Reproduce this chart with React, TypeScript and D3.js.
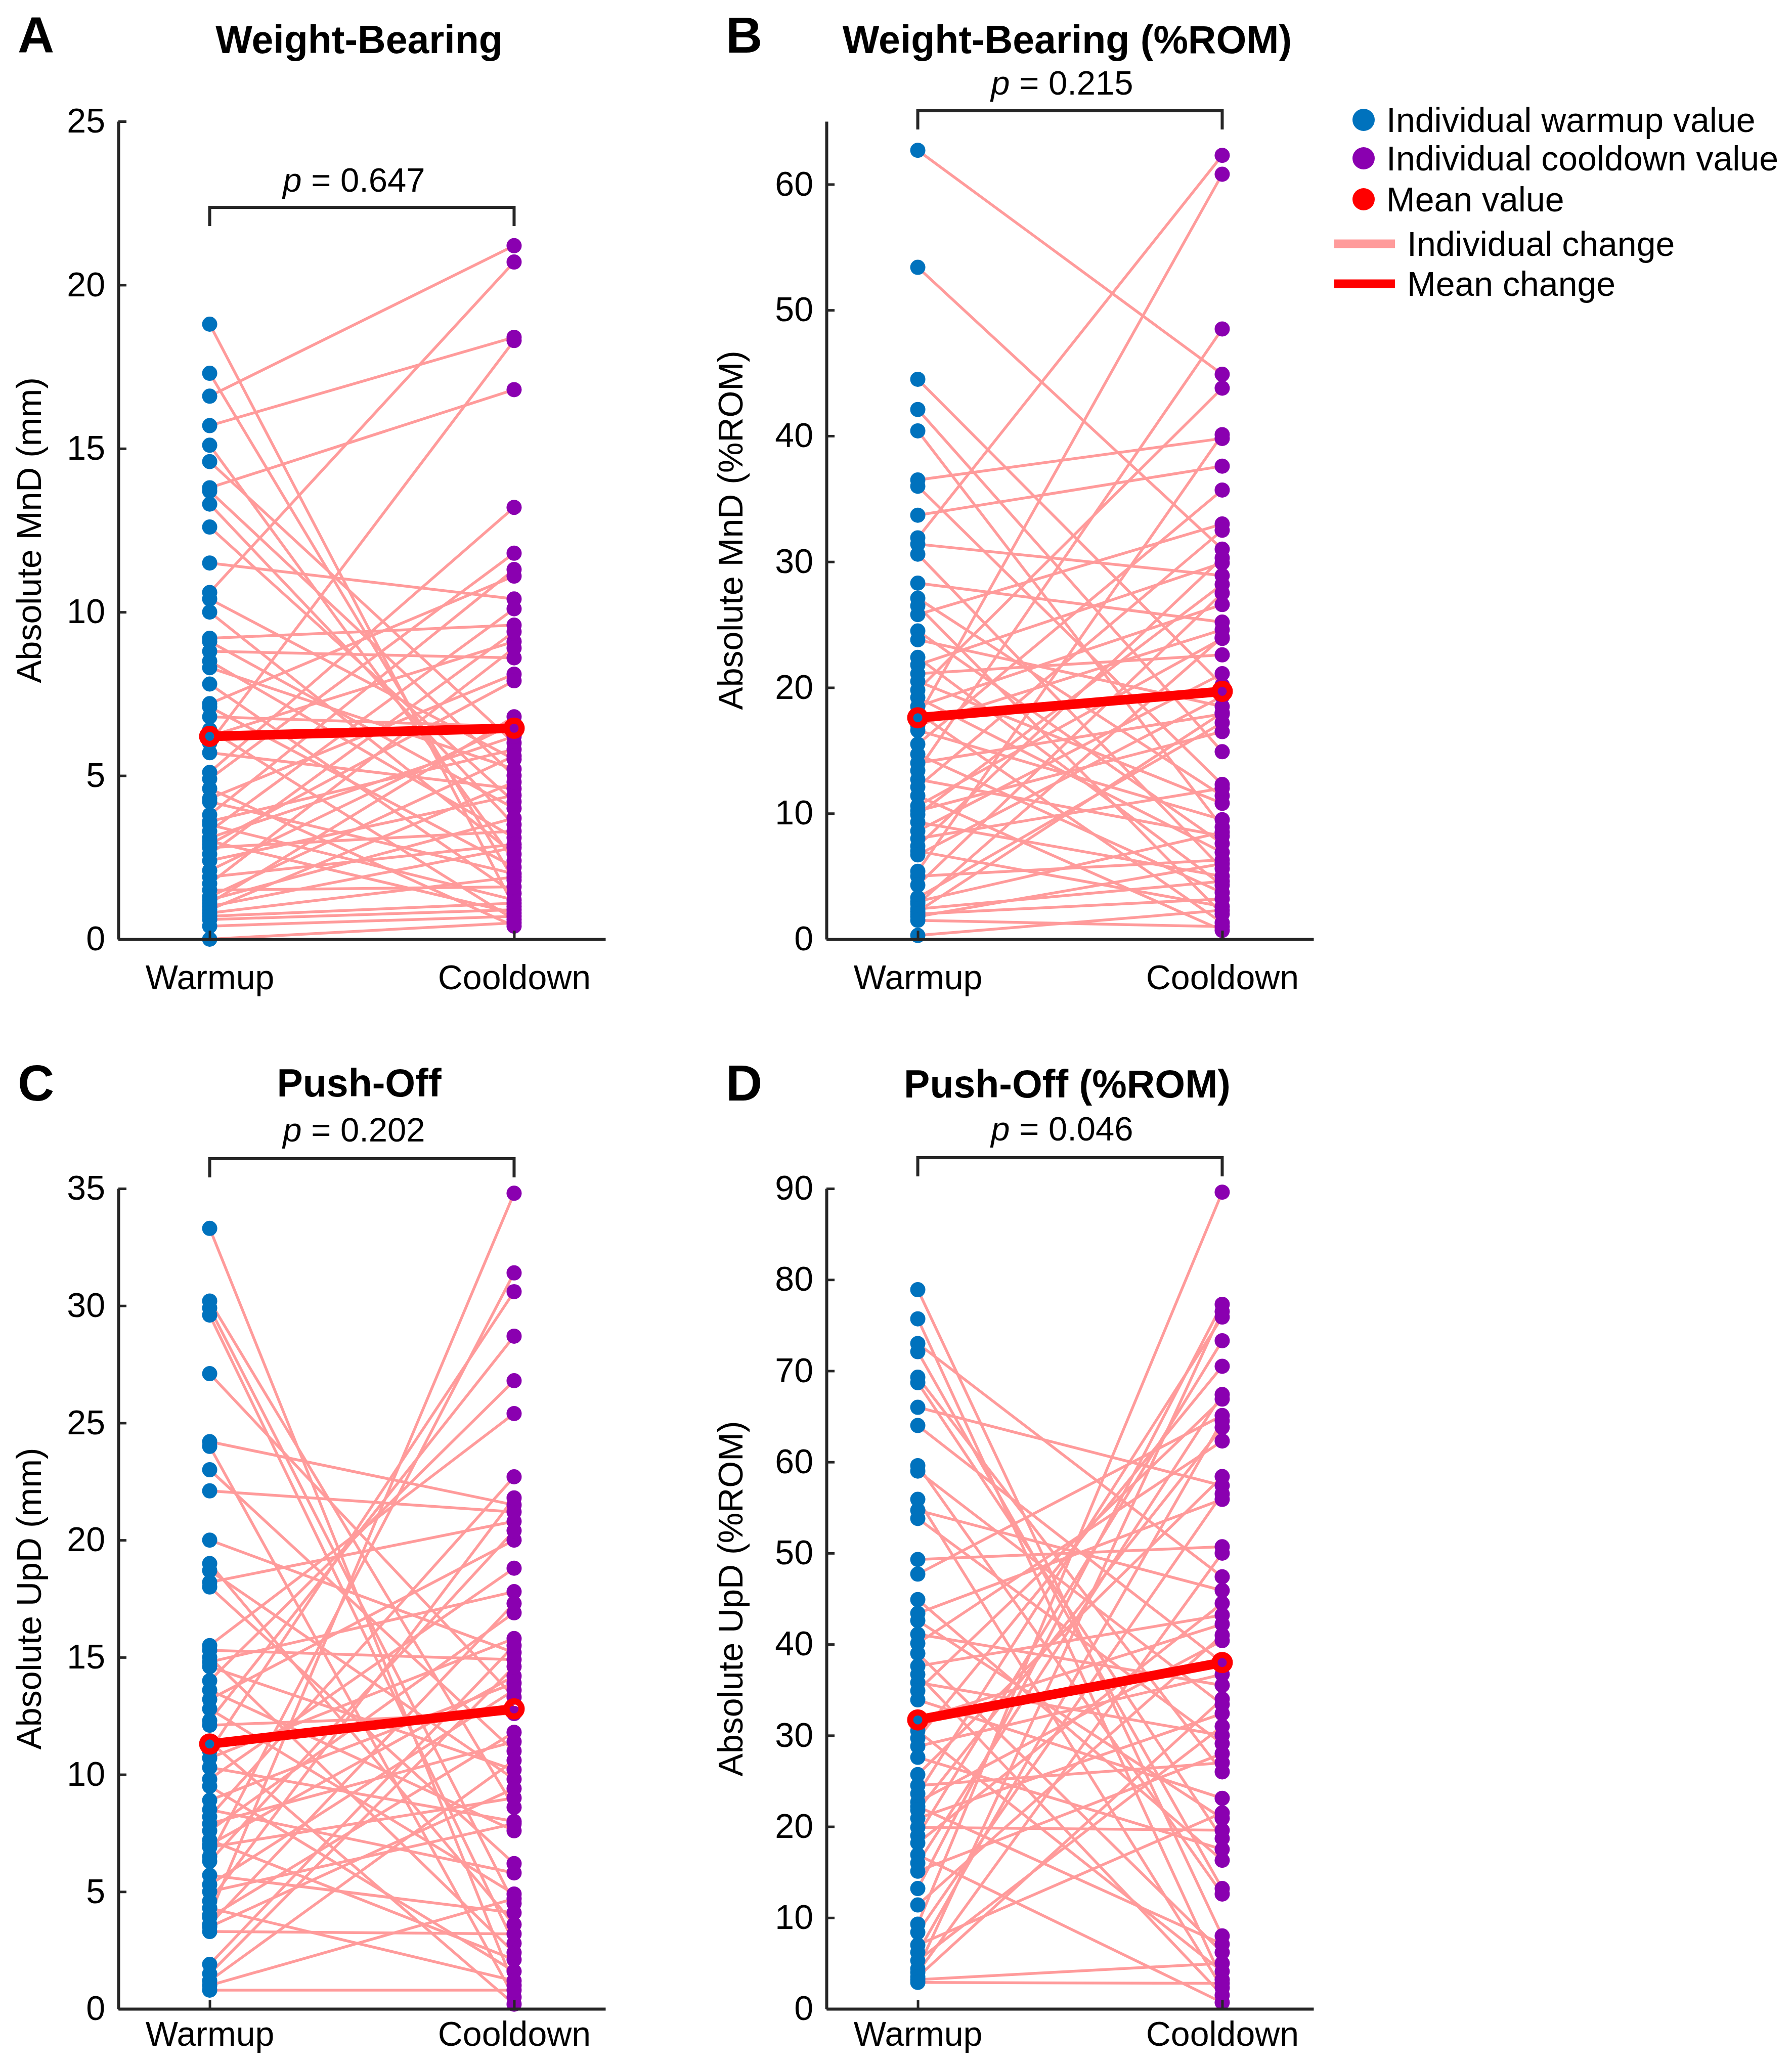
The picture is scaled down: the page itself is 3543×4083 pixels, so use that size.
import * as d3 from "d3";
import React, { useEffect, useRef } from "react";

// ---- data ----
const conditions = ["Warmup", "Cooldown"];
const panelLetters = ["A", "B", "C", "D"];
const panelTitles = ["Weight-Bearing", "Weight-Bearing (%ROM)", "Push-Off", "Push-Off (%ROM)"];
const yLabels = ["Absolute MnD (mm)", "Absolute MnD (%ROM)", "Absolute UpD (mm)", "Absolute UpD (%ROM)"];
const pValues = ["0.647", "0.215", "0.202", "0.046"];
const yMax = [25, 65, 35, 90];
const yStep = [5, 10, 5, 10];
const meanWarmup = [6.2, 17.6, 11.3, 31.7];
const meanCooldown = [6.45, 19.7, 12.8, 38.0];

// each index is one participant: warmup value -> cooldown value
const warmupA = [
  18.8, 17.3, 16.6, 15.7, 15.1, 14.6, 13.8, 13.7, 13.3, 12.6, 11.5, 10.6, 10.4, 10.0, 9.2, 9.1, 8.8, 8.5, 8.3, 7.8,
  7.2, 7.1, 6.8, 6.4, 6.2, 6.0, 5.7, 5.1, 4.9, 4.6, 4.3, 4.2, 3.8, 3.6, 3.5, 3.3, 3.1, 3.0, 2.9, 2.8,
  2.6, 2.4, 2.1, 1.9, 1.7, 1.5, 1.3, 1.2, 1.1, 1.0, 0.9, 0.8, 0.7, 0.6, 0.4, 0.0,
];
const cooldownA = [
  1.0, 1.8, 21.2, 18.4, 2.4, 6.0, 16.8, 5.0, 3.5, 4.2, 10.4, 20.7, 5.5, 2.6, 9.6, 4.0, 8.6, 3.1, 5.2, 1.4,
  11.1, 2.2, 6.5, 0.6, 9.1, 18.3, 4.6, 13.2, 11.8, 0.4, 8.1, 2.0, 11.3, 5.8, 1.2, 10.1, 6.2, 0.8, 7.9, 3.3,
  9.4, 4.4, 6.6, 2.9, 8.9, 1.6, 5.6, 3.7, 6.8, 2.8, 4.8, 1.9, 1.1, 0.9, 0.7, 0.5,
];

const warmupB = [
  62.7, 53.4, 44.5, 42.1, 40.4, 36.5, 36.0, 33.7, 31.9, 31.4, 30.6, 28.3, 27.1, 26.5, 25.8, 24.5, 23.8, 22.4, 21.8, 21.1,
  20.5, 19.8, 19.2, 18.5, 18.0, 17.6, 17.0, 16.6, 15.5, 14.7, 14.0, 13.4, 12.7, 12.1, 11.4, 10.6, 10.2, 9.9, 9.3, 8.6,
  8.0, 7.4, 7.0, 6.7, 5.4, 5.0, 4.3, 3.3, 3.0, 2.8, 2.4, 2.2, 2.0, 1.8, 1.5, 0.3,
];
const cooldownB = [
  44.9, 31.0, 20.2, 14.9, 8.9, 39.8, 12.3, 37.6, 62.3, 28.9, 5.6, 25.2, 11.4, 2.0, 33.0, 7.6, 18.5, 4.3, 29.9, 22.6,
  10.8, 43.8, 6.9, 26.6, 1.3, 60.8, 24.6, 9.5, 35.7, 3.7, 17.9, 48.5, 8.2, 32.5, 0.7, 23.9, 16.5, 28.2, 5.0, 21.1,
  12.0, 30.3, 2.6, 19.3, 40.1, 6.3, 27.5, 17.2, 8.5, 24.0, 4.6, 18.0, 3.2, 6.0, 1.0, 2.3,
];

const warmupC = [
  33.3, 30.2, 29.9, 29.6, 27.1, 24.2, 24.0, 23.0, 22.1, 20.0, 19.0, 18.7, 18.2, 18.0, 15.5, 15.3, 15.0, 14.8, 14.6, 14.0,
  13.6, 13.2, 12.8, 12.3, 12.1, 11.4, 11.0, 10.7, 10.3, 9.8, 9.5, 8.9, 8.5, 8.2, 7.9, 7.6, 7.2, 7.0, 6.9, 6.5,
  6.3, 5.7, 5.3, 5.0, 4.6, 4.3, 4.0, 3.9, 3.6, 3.5, 3.3, 1.9, 1.5, 1.2, 1.0, 0.8,
];
const cooldownC = [
  1.0, 8.6, 4.5, 2.8, 13.3, 21.5, 0.5, 11.0, 21.2, 15.2, 3.6, 9.8, 20.8, 6.2, 25.4, 14.9, 2.4, 17.8, 10.2, 26.8,
  7.6, 20.0, 4.9, 28.7, 12.6, 0.2, 30.6, 15.8, 8.0, 18.8, 1.6, 13.9, 5.8, 22.7, 11.4, 16.9, 2.1, 14.2, 9.0, 31.4,
  20.4, 4.1, 13.6, 7.9, 21.8, 1.2, 34.8, 11.8, 17.3, 9.4, 3.2, 15.5, 14.6, 10.6, 4.7, 0.8,
];

const warmupD = [
  78.9, 75.7, 73.0, 72.1, 69.3, 68.7, 66.0, 64.0, 59.6, 59.0, 55.9, 54.7, 53.8, 49.3, 47.7, 44.9, 43.4, 42.6, 41.1, 40.1,
  39.0, 37.6, 36.7, 35.8, 34.9, 33.9, 31.7, 30.5, 29.7, 28.8, 27.6, 25.7, 24.5, 23.6, 22.7, 22.2, 21.8, 20.9, 19.9, 19.0,
  18.2, 16.9, 16.0, 15.1, 13.2, 11.4, 9.3, 8.4, 7.0, 6.2, 5.3, 4.4, 4.0, 3.5, 3.2, 2.9,
];
const cooldownD = [
  8.0, 3.2, 47.4, 13.2, 26.0, 18.7, 57.4, 38.0, 12.6, 33.4, 2.3, 45.9, 29.1, 50.7, 65.1, 16.3, 55.9, 20.9, 35.5, 62.3,
  6.2, 43.2, 1.5, 30.0, 66.9, 23.1, 42.2, 4.1, 70.5, 36.7, 17.5, 58.4, 27.0, 75.9, 40.4, 7.1, 63.8, 32.4, 19.6, 73.3,
  44.5, 0.7, 67.4, 28.0, 77.3, 41.0, 89.6, 56.5, 21.5, 64.5, 31.0, 76.5, 50.0, 34.0, 5.0, 2.8,
];

const warmupSets = [warmupA, warmupB, warmupC, warmupD];
const cooldownSets = [cooldownA, cooldownB, cooldownC, cooldownD];

const legendPoints = ["Individual warmup value", "Individual cooldown value", "Mean value"];
const legendLines = ["Individual change", "Mean change"];

// ---- styling / layout ----
const FONT = "'Liberation Sans', Arial, Helvetica, sans-serif";
const BLUE = "#0072BD";
const PURPLE = "#8A00B0";
const PINK = "#FF9B9B";
const RED = "#FF0000";
const AXIS = "#262626";

const layout = [
  { x0: 234, top: 240, bottom: 1857, letterY: 104, titleY: 105, bracketY: 410, pY: 379, xLabelY: 1956, yLabelX: 57 },
  { x0: 1634, top: 240, bottom: 1857, letterY: 104, titleY: 105, bracketY: 219, pY: 187, xLabelY: 1956, yLabelX: 1444 },
  { x0: 234, top: 2350, bottom: 3972, letterY: 2176, titleY: 2168, bracketY: 2291, pY: 2257, xLabelY: 4045, yLabelX: 57 },
  { x0: 1634, top: 2350, bottom: 3972, letterY: 2176, titleY: 2170, bracketY: 2289, pY: 2255, xLabelY: 4045, yLabelX: 1444 },
];

const App: React.FC = () => {
  const ref = useRef<SVGSVGElement | null>(null);

  useEffect(() => {
    if (!ref.current) return;
    const svg = d3.select(ref.current);
    svg.selectAll("*").remove();

    layout.forEach((L, i) => {
      const warm = warmupSets[i];
      const cool = cooldownSets[i];
      const n = Math.min(warm.length, cool.length);

      const x = d3.scaleLinear().domain([0.7, 2.3]).range([L.x0, L.x0 + 963]);
      const y = d3.scaleLinear().domain([0, yMax[i]]).range([L.bottom, L.top]);
      const g = svg.append("g");

      // individual change lines
      g.append("g")
        .selectAll("line")
        .data(d3.range(n))
        .join("line")
        .attr("x1", x(1))
        .attr("y1", (j) => y(warm[j]))
        .attr("x2", x(2))
        .attr("y2", (j) => y(cool[j]))
        .attr("stroke", PINK)
        .attr("stroke-width", 5.5);

      // mean change line
      g.append("line")
        .attr("x1", x(1))
        .attr("y1", y(meanWarmup[i]))
        .attr("x2", x(2))
        .attr("y2", y(meanCooldown[i]))
        .attr("stroke", RED)
        .attr("stroke-width", 19);

      // individual points
      g.append("g")
        .selectAll("circle")
        .data(warm)
        .join("circle")
        .attr("cx", x(1))
        .attr("cy", (d) => y(d))
        .attr("r", 15)
        .attr("fill", BLUE);
      g.append("g")
        .selectAll("circle")
        .data(cool)
        .join("circle")
        .attr("cx", x(2))
        .attr("cy", (d) => y(d))
        .attr("r", 15)
        .attr("fill", PURPLE);

      // mean markers (open rings)
      g.append("g")
        .selectAll("circle")
        .data([meanWarmup[i], meanCooldown[i]])
        .join("circle")
        .attr("cx", (_, k) => x(k + 1))
        .attr("cy", (d) => y(d))
        .attr("r", 15)
        .attr("fill", "none")
        .attr("stroke", RED)
        .attr("stroke-width", 12);

      // axes
      const yAxis = d3
        .axisLeft(y)
        .tickValues(d3.range(0, yMax[i] + 0.001, yStep[i]))
        .tickSize(-16)
        .tickSizeOuter(0)
        .tickPadding(26);
      const ya = g.append("g").attr("transform", `translate(${L.x0},0)`).call(yAxis);
      const xAxis = d3
        .axisBottom(x)
        .tickValues([1, 2])
        .tickFormat((d) => conditions[(d as number) - 1])
        .tickSize(-17)
        .tickSizeOuter(0);
      const xa = g.append("g").attr("transform", `translate(0,${L.bottom})`).call(xAxis);

      [ya, xa].forEach((a) => {
        a.select(".domain").attr("stroke", AXIS).attr("stroke-width", 6);
        a.selectAll(".tick line").attr("stroke", AXIS).attr("stroke-width", 5);
        a.selectAll(".tick text")
          .attr("fill", "#000")
          .style("font-family", FONT)
          .style("font-size", "68px");
      });
      xa.selectAll(".tick text").attr("dy", null).attr("y", L.xLabelY - L.bottom);

      // significance bracket
      g.append("path")
        .attr(
          "d",
          `M${x(1)},${L.bracketY + 37}V${L.bracketY}H${x(2)}V${L.bracketY + 37}`
        )
        .attr("fill", "none")
        .attr("stroke", AXIS)
        .attr("stroke-width", 6);

      const pt = g
        .append("text")
        .attr("x", L.x0 + 466)
        .attr("y", L.pY)
        .attr("text-anchor", "middle")
        .style("font-family", FONT)
        .style("font-size", "67px");
      pt.append("tspan").style("font-style", "italic").text("p");
      pt.append("tspan").text(` = ${pValues[i]}`);

      // title and panel letter
      g.append("text")
        .attr("x", L.x0 + 476)
        .attr("y", L.titleY)
        .attr("text-anchor", "middle")
        .style("font-family", FONT)
        .style("font-size", "77px")
        .style("font-weight", "bold")
        .text(panelTitles[i]);
      g.append("text")
        .attr("x", L.x0 - 199)
        .attr("y", L.letterY)
        .style("font-family", FONT)
        .style("font-size", "100px")
        .style("font-weight", "bold")
        .text(panelLetters[i]);

      // y label
      g.append("text")
        .attr("transform", `translate(${L.yLabelX},${(L.top + L.bottom) / 2}) rotate(-90)`)
        .attr("text-anchor", "middle")
        .attr("dominant-baseline", "central")
        .style("font-family", FONT)
        .style("font-size", "68px")
        .text(yLabels[i]);
    });

    // legend
    const lg = svg.append("g");
    const pointColors = [BLUE, PURPLE, RED];
    const pointY = [237, 313, 394];
    legendPoints.forEach((label, k) => {
      lg.append("circle").attr("cx", 2696).attr("cy", pointY[k]).attr("r", 22).attr("fill", pointColors[k]);
      lg.append("text")
        .attr("x", 2741)
        .attr("y", pointY[k])
        .attr("dominant-baseline", "central")
        .style("font-family", FONT)
        .style("font-size", "68px")
        .text(label);
    });
    const lineColors = [PINK, RED];
    const lineY = [482, 561];
    legendLines.forEach((label, k) => {
      lg.append("line")
        .attr("x1", 2638)
        .attr("x2", 2758)
        .attr("y1", lineY[k])
        .attr("y2", lineY[k])
        .attr("stroke", lineColors[k])
        .attr("stroke-width", 17);
      lg.append("text")
        .attr("x", 2782)
        .attr("y", lineY[k])
        .attr("dominant-baseline", "central")
        .style("font-family", FONT)
        .style("font-size", "68px")
        .text(label);
    });
  }, []);

  return (
    <svg
      ref={ref}
      width={3543}
      height={4083}
      style={{ position: "absolute", left: 0, top: 0, background: "#fff" }}
    />
  );
};

export default App;
